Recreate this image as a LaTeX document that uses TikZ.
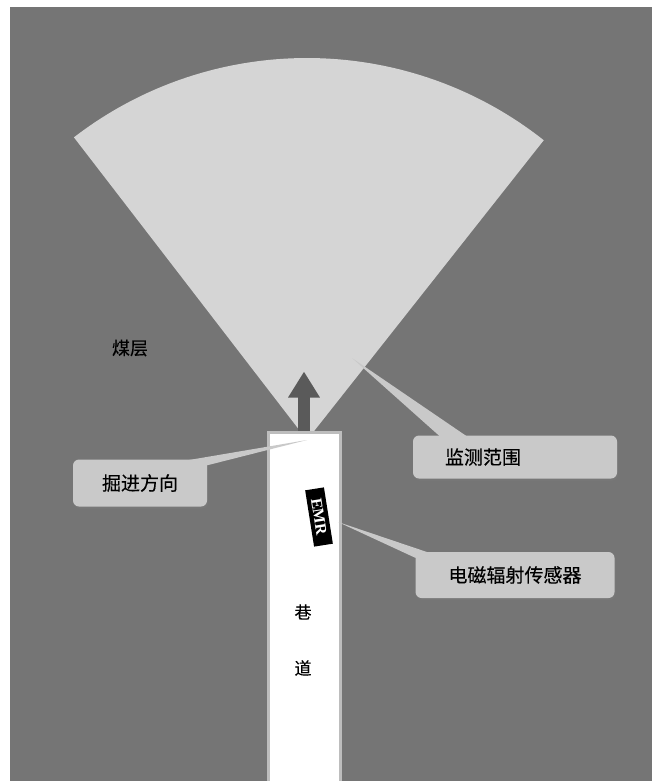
\documentclass[tikz,border=0pt]{standalone}
\usepackage{fontspec}
\newfontfamily\cjk[FakeBold=0.3]{Noto Sans CJK SC}
\newfontfamily\emrfont{Liberation Serif}
\usetikzlibrary{arrows.meta,calc,shadows}

\definecolor{seamgray}{HTML}{757575}
\definecolor{rangegray}{HTML}{D5D5D5}
\definecolor{boxgray}{HTML}{C9C9C9}
\definecolor{arrowgray}{HTML}{5A5A5A}
\definecolor{wallgray}{HTML}{BDBDBD}

\tikzset{
  callout/.style={fill=boxgray, rounded corners=6pt, inner sep=0pt,
    drop shadow={shadow xshift=1pt, shadow yshift=-2pt, opacity=0.3},
    font=\cjk\fontsize{19}{19}\selectfont},
  pointer/.style={fill=boxgray},
  tunnel/.style={fill=white, draw=wallgray, line width=3pt, inner sep=0pt,
    minimum width=72pt, minimum height=358pt},
  advance/.style={draw=arrowgray, line width=12pt,
    -{Triangle[width=30pt, length=26pt]}},
  sensor/.style={fill=black, text=white, inner sep=1pt,
    minimum width=57pt, minimum height=19pt,
    font=\emrfont\bfseries\fontsize{16}{16}\selectfont},
  tag/.style={inner sep=0pt, font=\cjk\fontsize{18}{18}\selectfont}
}

\begin{document}
\begin{tikzpicture}[x=1pt, y=-1pt]
\useasboundingbox (0,0) rectangle (652,781);
\fill[seamgray] (10,7) rectangle (652,781);

% monitoring range
\coordinate (apex) at (307,440);
\fill[rangegray] (apex) -- ++(-127.6:382) arc[start angle=-127.6, end angle=-51.7, radius=382] -- cycle;

% roadway
\node [tunnel] (tunnel) at (304,611) {};
\draw [advance] (tunnel.north) -- ++(0,-59);
\node [sensor, rotate=-81] (emr) at (319,517) {EMR};
\node [tag, font=\cjk\fontsize{17}{17}\selectfont] (road1) at (303,612) {巷};
\node [tag, font=\cjk\fontsize{17}{17}\selectfont] (road2) at (303,668) {道};

\node [tag] (seam) at (130,348) {煤层};

% callouts
\node [callout, minimum width=134pt, minimum height=47pt] (dirbox) at (140,483) {掘进方向};
\node [callout, minimum height=43pt, text width=140pt, inner xsep=32pt, align=left] (rangebox) at (515,457) {监测范围};
\node [callout, minimum width=199pt, minimum height=46pt] (sensorbox) at (515,575) {电磁辐射传感器};

\coordinate (dirtip) at (307,440);
\coordinate (rangetip) at (352,358);
\coordinate (sensortip) at (338,522);
\fill [pointer] ($(dirbox.north east)+(-20,1)$) -- (dirtip) -- ($(dirbox.north east)+(0,6)$) -- cycle;
\fill [pointer] ($(rangebox.north west)+(27,1)$) -- (rangetip) -- ($(rangebox.north west)+(54,1)$) -- cycle;
\fill [pointer] ($(sensorbox.north west)+(0,6)$) -- (sensortip) -- ($(sensorbox.north west)+(14,1)$) -- cycle;
\end{tikzpicture}
\end{document}
